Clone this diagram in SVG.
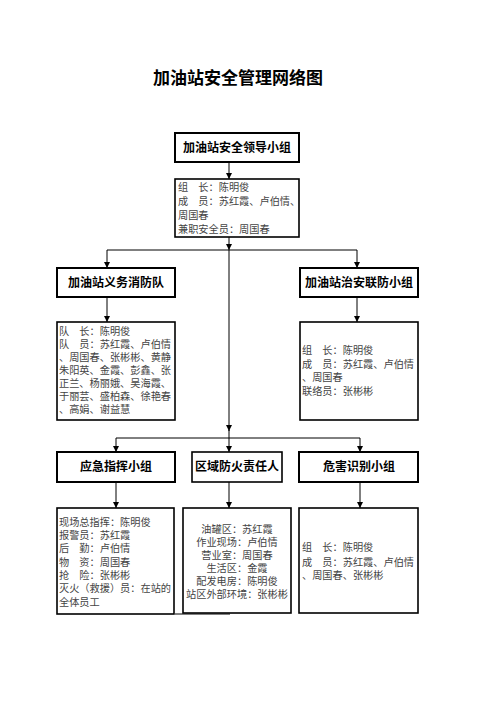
<svg xmlns="http://www.w3.org/2000/svg" width="496" height="702" viewBox="0 0 496 702">
<defs>
<style>
.title{font-family:"Liberation Sans","Noto Sans CJK SC",sans-serif;font-size:17px;font-weight:bold;fill:#000;text-anchor:middle}
.hd{fill:#fff;stroke:#000;stroke-width:2}
.hdt{font-family:"Liberation Sans","Noto Sans CJK SC",sans-serif;font-size:12px;font-weight:bold;fill:#000;text-anchor:middle}
.info{fill:#fff;stroke:#000;stroke-width:1.6}
.it{font-family:"Liberation Sans","Noto Sans CJK SC",sans-serif;font-size:10.2px;fill:#444}
.itc{font-family:"Liberation Sans","Noto Sans CJK SC",sans-serif;font-size:10.2px;fill:#444;text-anchor:middle}
.ln{stroke:#000;stroke-width:1;fill:none}
</style>
<marker id="ah" viewBox="0 0 6 6" refX="6" refY="3" markerWidth="6" markerHeight="6" orient="auto" markerUnits="userSpaceOnUse">
<path d="M0,0 L6,3 L0,6 Z" fill="#000"/>
</marker>
</defs>
<rect width="496" height="702" fill="#fff"/>
<text class="title" x="238" y="84">加油站安全管理网络图</text>

<g id="connectors">
<line class="ln" x1="229" y1="162" x2="229" y2="179" marker-end="url(#ah)"/>
<line class="ln" x1="229" y1="237" x2="229" y2="250" marker-end="url(#ah)"/>
<line class="ln" x1="107" y1="250" x2="357" y2="250"/>
<line class="ln" x1="107" y1="250" x2="107" y2="268" marker-end="url(#ah)"/>
<line class="ln" x1="357" y1="250" x2="357" y2="268" marker-end="url(#ah)"/>
<line class="ln" x1="107" y1="297" x2="107" y2="322" marker-end="url(#ah)"/>
<line class="ln" x1="357" y1="297" x2="357" y2="322" marker-end="url(#ah)"/>
<line class="ln" x1="229" y1="250" x2="229" y2="431" marker-end="url(#ah)"/>
<line class="ln" x1="229" y1="430" x2="229" y2="438"/>
<line class="ln" x1="116" y1="438" x2="360" y2="438"/>
<line class="ln" x1="116" y1="438" x2="116" y2="452" marker-end="url(#ah)"/>
<line class="ln" x1="229" y1="438" x2="229" y2="452" marker-end="url(#ah)"/>
<line class="ln" x1="360" y1="438" x2="360" y2="452" marker-end="url(#ah)"/>
<line class="ln" x1="116" y1="482" x2="116" y2="508" marker-end="url(#ah)"/>
<line class="ln" x1="229" y1="482" x2="229" y2="508" marker-end="url(#ah)"/>
<line class="ln" x1="360" y1="482" x2="360" y2="508" marker-end="url(#ah)"/>
<line class="ln" x1="175" y1="614" x2="230" y2="614"/>
</g>

<g id="leader">
<rect class="hd" x="175" y="133" width="124" height="29"/>
<text class="hdt" x="237" y="152">加油站安全领导小组</text>
</g>
<g id="leader-info">
<rect class="info" x="175" y="179" width="124" height="58"/>
<text class="it" x="178" y="191">组　长：陈明俊</text>
<text class="it" x="178" y="205">成　员：苏红霞、卢伯情、</text>
<text class="it" x="178" y="219">周国春</text>
<text class="it" x="178" y="233">兼职安全员：周国春</text>
</g>

<g id="fire-team">
<rect class="hd" x="57" y="268" width="118" height="29"/>
<text class="hdt" x="116" y="287">加油站义务消防队</text>
</g>
<g id="fire-team-info">
<rect class="info" x="57" y="322" width="118" height="98"/>
<text class="it" x="59" y="335">队　长：陈明俊</text>
<text class="it" x="59" y="348">队　员：苏红霞、卢伯情</text>
<text class="it" x="59" y="361">、周国春、张彬彬、黄静</text>
<text class="it" x="59" y="374">朱阳英、金霞、彭鑫、张</text>
<text class="it" x="59" y="387">正兰、杨丽娥、吴海霞、</text>
<text class="it" x="59" y="400">于丽芸、盛柏森、徐艳春</text>
<text class="it" x="59" y="413">、高娟、谢益慧</text>
</g>

<g id="security">
<rect class="hd" x="300" y="268" width="118" height="29"/>
<text class="hdt" x="359" y="287">加油站治安联防小组</text>
</g>
<g id="security-info">
<rect class="info" x="300" y="322" width="118" height="98"/>
<text class="it" x="302" y="354">组　长：陈明俊</text>
<text class="it" x="302" y="368">成　员：苏红霞、卢伯情</text>
<text class="it" x="302" y="381">、周国春</text>
<text class="it" x="302" y="395">联络员：张彬彬</text>
</g>

<g id="emergency">
<rect class="hd" x="57" y="452" width="118" height="30"/>
<text class="hdt" x="116" y="471">应急指挥小组</text>
</g>
<g id="emergency-info">
<rect class="info" x="57" y="508" width="117" height="106"/>
<text class="it" x="59" y="526">现场总指挥：陈明俊</text>
<text class="it" x="59" y="539">报警员：苏红霞</text>
<text class="it" x="59" y="552">后　勤：卢伯情</text>
<text class="it" x="59" y="566">物　资：周国春</text>
<text class="it" x="59" y="579">抢　险：张彬彬</text>
<text class="it" x="59" y="592">灭火（救援）员：在站的</text>
<text class="it" x="59" y="606">全体员工</text>
</g>

<g id="zone">
<rect class="info" x="192" y="452" width="90" height="30"/>
<text class="hdt" x="237" y="471">区域防火责任人</text>
</g>
<g id="zone-info">
<rect class="info" x="183" y="508" width="108" height="105"/>
<text class="itc" x="237" y="533">油罐区：苏红霞</text>
<text class="itc" x="237" y="546">作业现场：卢伯情</text>
<text class="itc" x="237" y="559">营业室：周国春</text>
<text class="itc" x="237" y="572">生活区：金霞</text>
<text class="itc" x="237" y="585">配发电房：陈明俊</text>
<text class="itc" x="237" y="598">站区外部环境：张彬彬</text>
</g>

<g id="hazard">
<rect class="hd" x="299" y="452" width="119" height="30"/>
<text class="hdt" x="359" y="471">危害识别小组</text>
</g>
<g id="hazard-info">
<rect class="info" x="299" y="508" width="119" height="105"/>
<text class="it" x="302" y="551">组　长：陈明俊</text>
<text class="it" x="302" y="566">成　员：苏红霞、卢伯情</text>
<text class="it" x="302" y="579">、周国春、张彬彬</text>
</g>
</svg>
